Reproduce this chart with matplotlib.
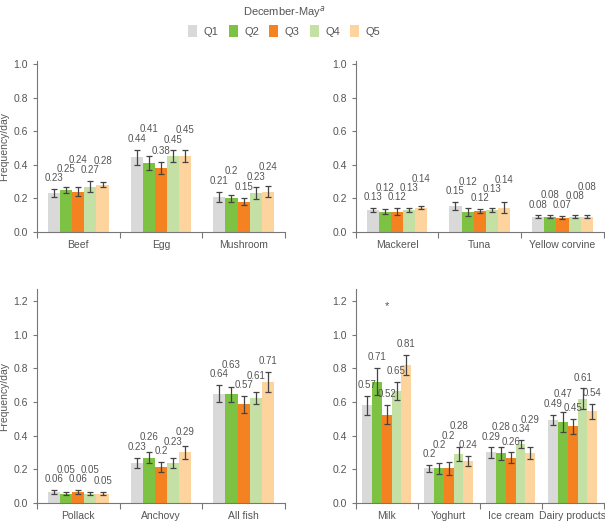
import numpy as np
import matplotlib
matplotlib.use('Agg')
import matplotlib.pyplot as plt
from matplotlib.patches import Patch

plt.rcParams['font.family'] = ['Liberation Sans', 'DejaVu Sans']

quintiles = ['Q1', 'Q2', 'Q3', 'Q4', 'Q5']
colors = ['#d9d9d9', '#7dc242', '#f58220', '#c5e0a5', '#fdd49e']

# panel 1: beef / egg / mushroom
foods1 = ['Beef', 'Egg', 'Mushroom']
means1 = [[0.23, 0.25, 0.24, 0.27, 0.28],
          [0.445, 0.41, 0.38, 0.45, 0.45],
          [0.21, 0.20, 0.18, 0.23, 0.24]]
errs1 = [[0.025, 0.02, 0.025, 0.035, 0.015],
         [0.045, 0.04, 0.035, 0.035, 0.035],
         [0.03, 0.02, 0.02, 0.035, 0.035]]
labels1 = [['0.23', '0.25', '0.24', '0.27', '0.28'],
           ['0.44', '0.41', '0.38', '0.45', '0.45'],
           ['0.21', '0.2', '0.15', '0.23', '0.24']]

# panel 2: mackerel / tuna / yellow corvine
foods2 = ['Mackerel', 'Tuna', 'Yellow corvine']
means2 = [[0.13, 0.12, 0.12, 0.13, 0.145],
          [0.155, 0.12, 0.125, 0.13, 0.145],
          [0.09, 0.09, 0.085, 0.09, 0.09]]
errs2 = [[0.01, 0.015, 0.02, 0.012, 0.01],
         [0.025, 0.025, 0.012, 0.012, 0.035],
         [0.008, 0.008, 0.008, 0.008, 0.008]]
labels2 = [['0.13', '0.12', '0.12', '0.13', '0.14'],
           ['0.15', '0.12', '0.12', '0.13', '0.14'],
           ['0.08', '0.08', '0.07', '0.08', '0.08']]

# panel 3: pollack / anchovy / all fish
foods3 = ['Pollack', 'Anchovy', 'All fish']
means3 = [[0.065, 0.055, 0.065, 0.055, 0.055],
          [0.24, 0.27, 0.215, 0.24, 0.30],
          [0.65, 0.645, 0.585, 0.625, 0.72]]
errs3 = [[0.01, 0.01, 0.01, 0.01, 0.01],
         [0.03, 0.03, 0.03, 0.03, 0.04],
         [0.05, 0.045, 0.05, 0.035, 0.06]]
labels3 = [['0.06', '0.05', '0.06', '0.05', '0.05'],
           ['0.23', '0.26', '0.2', '0.23', '0.29'],
           ['0.64', '0.63', '0.57', '0.61', '0.71']]

# panel 4: dairy
foods4 = ['Milk', 'Yoghurt', 'Ice cream', 'Dairy products']
means4 = [[0.58, 0.72, 0.525, 0.665, 0.82],
          [0.205, 0.205, 0.205, 0.29, 0.25],
          [0.30, 0.295, 0.27, 0.35, 0.295],
          [0.495, 0.48, 0.455, 0.62, 0.545]]
errs4 = [[0.055, 0.08, 0.055, 0.055, 0.06],
         [0.02, 0.035, 0.04, 0.04, 0.03],
         [0.03, 0.04, 0.03, 0.025, 0.035],
         [0.03, 0.06, 0.045, 0.06, 0.045]]
labels4 = [['0.57', '0.71', '0.52', '0.65', '0.81'],
           ['0.2', '0.2', '0.2', '0.28', '0.24'],
           ['0.29', '0.28', '0.26', '0.34', '0.29'],
           ['0.49', '0.47', '0.45', '0.61', '0.54']]

txt = '#555555'
axcol = '#777777'

fig = plt.figure(figsize=(6.05, 5.27), dpi=100)


def draw(rect, foods, means, errs, labels, ylim, yticks, ylab, bw):
    ax = fig.add_axes(rect)
    n = len(foods)
    x = np.arange(n)
    means = np.array(means)
    errs = np.array(errs)
    for j in range(5):
        xs = x + (j - 2) * bw
        ax.bar(xs, means[:, j], bw, color=colors[j], zorder=2)
        ax.errorbar(xs, means[:, j], yerr=errs[:, j], fmt='none',
                    ecolor='#444444', elinewidth=0.9, capsize=2, capthick=0.9, zorder=3)
    # value labels, stepped up when they would hit the neighbour's label
    h = 0.055
    for i in range(n):
        prev = None
        for j in range(5):
            y = means[i, j] + errs[i, j] + 0.035
            if prev is not None and abs(y - prev) < h:
                y = prev + h
            ax.text(x[i] + (j - 2) * bw, y, labels[i][j],
                    ha='center', va='bottom', fontsize=7, color=txt)
            prev = y
    ax.set_xlim(-0.5, n - 0.5)
    ax.set_ylim(*ylim)
    ax.set_yticks(yticks)
    ax.set_yticklabels(['%.1f' % t for t in yticks], fontsize=7.5, color=txt)
    ax.set_xticks(np.arange(-0.5, n, 1.0))
    ax.set_xticklabels([])
    ax.set_xticks(x, minor=True)
    ax.set_xticklabels(foods, minor=True, fontsize=7.5, color=txt)
    ax.tick_params(axis='x', which='minor', length=0, pad=6)
    ax.tick_params(axis='x', which='major', length=4, color=axcol)
    ax.tick_params(axis='y', length=3, color=axcol)
    for s in ['top', 'right']:
        ax.spines[s].set_visible(False)
    for s in ['left', 'bottom']:
        ax.spines[s].set_color(axcol)
        ax.spines[s].set_linewidth(0.8)
    if ylab:
        ax.set_ylabel('Frequency/day', fontsize=7.5, color=txt, labelpad=3)
    return ax


draw([0.061, 0.56, 0.41, 0.325], foods1, means1, errs1, labels1,
     (0, 1.02), [0.0, 0.2, 0.4, 0.6, 0.8, 1.0], True, 0.147)
draw([0.588, 0.56, 0.41, 0.325], foods2, means2, errs2, labels2,
     (0, 1.02), [0.0, 0.2, 0.4, 0.6, 0.8, 1.0], False, 0.147)
draw([0.061, 0.0455, 0.41, 0.406], foods3, means3, errs3, labels3,
     (0, 1.27), [0.0, 0.2, 0.4, 0.6, 0.8, 1.0, 1.2], True, 0.147)
ax4 = draw([0.588, 0.0455, 0.41, 0.406], foods4, means4, errs4, labels4,
           (0, 1.27), [0.0, 0.2, 0.4, 0.6, 0.8, 1.0, 1.2], False, 0.158)
ax4.text(0.0, 1.17, '*', ha='center', va='center', fontsize=8, color=txt)

handles = [Patch(facecolor=c) for c in colors]
leg = fig.legend(handles, quintiles, loc='upper center', bbox_to_anchor=(0.47, 1.012),
                 ncol=5, frameon=False, fontsize=8, title='December-May$^a$',
                 title_fontsize=8, handlelength=0.8, handleheight=1.2,
                 columnspacing=0.9, handletextpad=0.6)
for t in leg.get_texts():
    t.set_color(txt)
leg.get_title().set_color(txt)

fig.savefig('out.png', dpi=100)
